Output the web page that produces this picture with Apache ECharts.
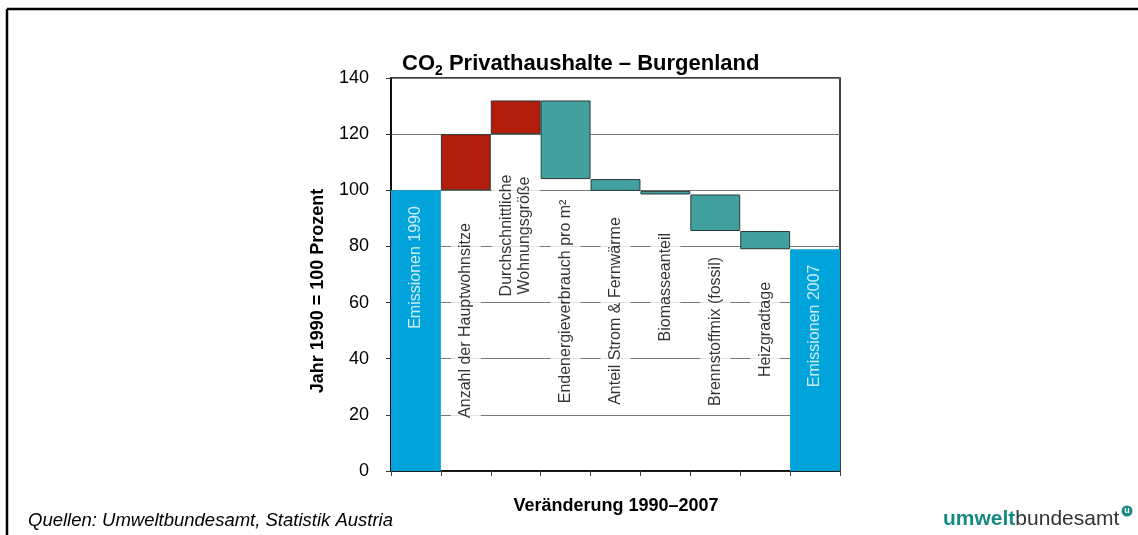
<!DOCTYPE html>
<html>
<head>
<meta charset="utf-8">
<script src="https://cdn.jsdelivr.net/npm/echarts@6/dist/echarts.min.js"></script>
<style>
  html, body { margin: 0; padding: 0; background: #fff; }
  #chart { width: 1138px; height: 535px; }
</style>
</head>
<body>
<div id="chart"></div>
<script>
// Werte (Jahr 1990 = 100 Prozent)
const categories = [
  'Emissionen 1990',
  'Anzahl der Hauptwohnsitze',
  'Durchschnittliche\nWohnungsgröße',
  'Endenergieverbrauch pro m²',
  'Anteil Strom & Fernwärme',
  'Biomasseanteil',
  'Brennstoffmix (fossil)',
  'Heizgradtage',
  'Emissionen 2007'
]
const emissions1990 = 100
const changes = [20, 12, -28, -4.2, -1.3, -13, -6.5]
const emissions2007 = 79
// Höhe der Beschriftung (Mitte) auf der y-Achse
const labelPos = [72.5, 53.6, 83.9, 60.4, 57, 65.5, 49.7, 50.4, 51.7]
const yTicks = { min: 0, max: 140, interval: 20 }

const BLUE = '#00A3DA'
const RED = '#B21C0B'
const TEAL = '#42A19E'
const FONT = '"Liberation Sans", Arial, sans-serif'

// Wasserfall: unsichtbare Basis + sichtbarer Balken
let level = emissions1990
const base = [0]
const bars = [{ value: emissions1990, itemStyle: { color: BLUE, borderWidth: 0 } }]
changes.forEach(c => {
  if (c >= 0) {
    base.push(level)
    bars.push({ value: c, itemStyle: { color: RED } })
  } else {
    base.push(level + c)
    bars.push({ value: -c, itemStyle: { color: TEAL } })
  }
  level += c
})
base.push(0)
bars.push({ value: emissions2007, itemStyle: { color: BLUE, borderWidth: 0 } })

const labelData = labelPos.map((v, i) => {
  const blue = i === 0 || i === categories.length - 1
  return {
    value: [i, v],
    label: blue
      ? { color: '#fff', backgroundColor: 'transparent' }
      : {}
  }
})

const chart = echarts.init(document.getElementById('chart'))
chart.setOption({
  animation: false,
  textStyle: { fontFamily: FONT },
  title: {
    text: '{a|CO}{sub|2}{a| Privathaushalte – Burgenland}',
    left: 397,
    top: 45,
    textStyle: {
      rich: {
        a: { fontSize: 22, fontWeight: 'bold', color: '#000', fontFamily: FONT, lineHeight: 28 },
        sub: { fontSize: 14, fontWeight: 'bold', color: '#000', fontFamily: FONT, verticalAlign: 'bottom', lineHeight: 22 }
      }
    }
  },
  grid: {
    left: 391,
    right: 298,
    top: 78,
    bottom: 64,
    show: true,
    borderColor: '#000',
    borderWidth: 1.5,
    backgroundColor: '#fff'
  },
  xAxis: {
    type: 'category',
    data: categories,
    boundaryGap: true,
    axisLine: { lineStyle: { color: '#000', width: 1.5 } },
    axisTick: { show: true, interval: 0, length: 5, lineStyle: { color: '#444' } },
    axisLabel: { show: false },
    splitLine: { show: false }
  },
  yAxis: {
    type: 'value',
    min: yTicks.min,
    max: yTicks.max,
    interval: yTicks.interval,
    axisLine: { show: true, lineStyle: { color: '#000', width: 1.5 } },
    axisTick: { show: true, length: 5, lineStyle: { color: '#333' } },
    axisLabel: { fontSize: 18, color: '#000', margin: 22 },
    splitLine: { lineStyle: { color: '#777', width: 1 } }
  },
  series: [
    {
      type: 'bar',
      stack: 'w',
      data: base,
      barCategoryGap: '0%',
      itemStyle: { color: 'transparent' },
      emphasis: { disabled: true },
      silent: true
    },
    {
      type: 'bar',
      stack: 'w',
      data: bars,
      barCategoryGap: '0%',
      itemStyle: { borderColor: '#2b3a3a', borderWidth: 1 },
      emphasis: { disabled: true }
    },
    {
      type: 'scatter',
      data: labelData,
      symbolSize: 0,
      silent: true,
      z: 5,
      label: {
        show: true,
        position: 'inside',
        rotate: 90,
        formatter: p => categories[p.dataIndex],
        fontSize: 16,
        color: '#000',
        align: 'center',
        verticalAlign: 'middle',
        lineHeight: 18,
        backgroundColor: '#fff',
        padding: [6, 4]
      }
    }
  ],
  graphic: [
    { type: 'line', shape: { x1: 7, y1: 9, x2: 1138, y2: 9 }, style: { stroke: '#000', lineWidth: 2.5 } },
    { type: 'line', shape: { x1: 7, y1: 9, x2: 7, y2: 535 }, style: { stroke: '#000', lineWidth: 2.5 } },
    {
      type: 'text', x: 318, y: 291, rotation: Math.PI / 2,
      style: { text: 'Jahr 1990 = 100 Prozent', font: 'bold 18px ' + FONT, fill: '#000', align: 'center', verticalAlign: 'middle' }
    },
    {
      type: 'text', x: 616, y: 506,
      style: { text: 'Veränderung 1990–2007', font: 'bold 18px ' + FONT, fill: '#000', align: 'center', verticalAlign: 'middle' }
    },
    {
      type: 'text', left: 28, top: 511,
      style: { text: 'Quellen: Umweltbundesamt, Statistik Austria', font: 'italic 18.5px ' + FONT, fill: '#000' }
    },
    {
      type: 'text', left: 943, top: 509,
      style: {
        text: '{b|umwelt}{r|bundesamt}',
        rich: {
          b: { fontSize: 21, fontWeight: 'bold', fill: '#168A82', fontFamily: FONT },
          r: { fontSize: 21, fill: '#333', fontFamily: FONT }
        }
      }
    },
    { type: 'circle', shape: { cx: 1127, cy: 511, r: 5.5 }, style: { fill: '#168A82' } },
    {
      type: 'text', x: 1127, y: 511,
      style: { text: 'u', font: 'bold 9px ' + FONT, fill: '#fff', align: 'center', verticalAlign: 'middle' }
    }
  ]
})
</script>
</body>
</html>
